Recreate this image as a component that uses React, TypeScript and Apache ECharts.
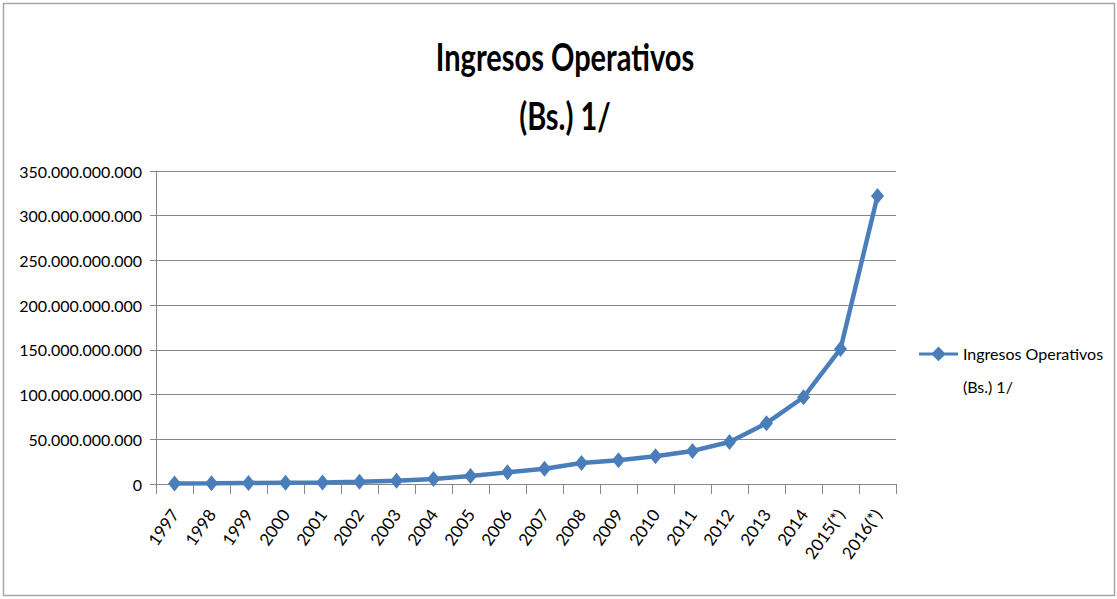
import React, { useEffect, useRef } from "react";
import * as echarts from "echarts";

const categories = ["1997","1998","1999","2000","2001","2002","2003","2004","2005","2006","2007","2008","2009","2010","2011","2012","2013","2014","2015(*)","2016(*)"];
const values = [0.5e9, 0.8e9, 1.2e9, 1.5e9, 1.8e9, 2.5e9, 3.5e9, 5.5e9, 9e9, 13e9, 17e9, 23.5e9, 26.5e9, 31e9, 37e9, 47e9, 68e9, 97e9, 151e9, 322e9];
const seriesName = "Ingresos Operativos\n(Bs.) 1/";
const titleText = "Ingresos Operativos\n(Bs.) 1/";
const yMax = 350e9;
const yInterval = 50e9;

const fmt = (v: number) => String(Math.round(v)).replace(/\B(?=(\d{3})+(?!\d))/g, ".");

export default function App() {
  const ref = useRef<HTMLDivElement>(null);
  useEffect(() => {
    if (!ref.current) return;
    const chart = echarts.init(ref.current, null, { renderer: "svg" });
    const font = "Lato, 'Open Sans', sans-serif";
    chart.setOption({
      animation: false,
      backgroundColor: "#ffffff",
      graphic: [
        { type: "rect", shape: { x: 3.5, y: 3.5, width: 1111, height: 592 }, style: { fill: "none", stroke: "#a6a6a6", lineWidth: 1.5 }, silent: true },
        {
          type: "text",
          x: 565,
          y: 86,
          scaleY: 1.3,
          silent: true,
          style: {
            text: titleText,
            fontFamily: font,
            fontWeight: "bold",
            fontSize: 29,
            lineHeight: 45,
            fill: "#000",
            align: "center",
            verticalAlign: "middle",
          },
        },
      ],
      legend: {
        left: 914,
        top: 332,
        orient: "vertical",
        itemWidth: 39,
        itemHeight: 48,
        itemGap: 0,
        textStyle: { fontFamily: font, fontSize: 16, lineHeight: 33, color: "#000" },
        data: [{ name: seriesName, icon: "path://M0,6L14,6L20,0L26,6L40,6L40,9L26,9L20,15L14,9L0,9Z M0,48L0.01,48L0,48Z" }],
        itemStyle: { color: "#4a7ebb" },
      },
      grid: { left: 156, right: 221, top: 171, bottom: 115, containLabel: false },
      xAxis: {
        type: "category",
        data: categories,
        boundaryGap: true,
        axisLine: { lineStyle: { color: "#868686", width: 1 } },
        axisTick: { show: true, length: 10, lineStyle: { color: "#868686" } },
        axisLabel: { rotate: 55, fontFamily: font, fontSize: 17, color: "#000", margin: 27, interval: 0 },
      },
      yAxis: {
        type: "value",
        min: 0,
        max: yMax,
        interval: yInterval,
        axisLine: { show: true, lineStyle: { color: "#868686" } },
        axisTick: { show: true, length: 6, lineStyle: { color: "#868686" } },
        splitLine: { lineStyle: { color: "#868686", width: 1 } },
        axisLabel: { fontFamily: font, fontSize: 16, color: "#000", margin: 14, formatter: (v: number) => fmt(v) },
      },
      series: [
        {
          name: seriesName,
          type: "line",
          data: values,
          symbol: "diamond",
          symbolSize: [13, 16],
          lineStyle: { color: "#4a7ebb", width: 4.5 },
          itemStyle: { color: "#4a7ebb" },
        },
      ],
    });
    return () => chart.dispose();
  }, []);
  return <div ref={ref} style={{ position: "fixed", left: 0, top: 0, width: 1117, height: 599 }} />;
}
